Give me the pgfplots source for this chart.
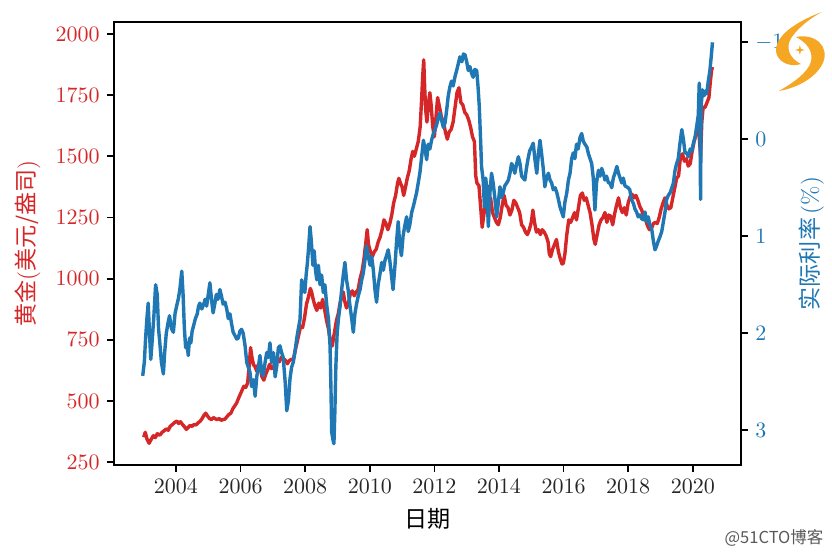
\documentclass[border=0pt]{standalone}
\usepackage{pgfplots}
\pgfplotsset{compat=1.18}
\usepackage{fontspec}
\newfontfamily\cjk{Noto Sans CJK SC}
\definecolor{tabred}{RGB}{214,39,40}
\definecolor{tabblue}{RGB}{31,119,180}
\definecolor{logoorange}{RGB}{245,166,35}
\pgfplotsset{
  twin/.style={
    at={(51.8pt,40pt)}, anchor=south west, scale only axis,
    width=285pt, height=201.4pt,
    xmin=2002.08, xmax=2021.49,
    axis line style={line width=0.8pt},
    tick style={black, line width=0.8pt},
    tick align=outside, major tick length=3pt,
    tick label style={font=\fontsize{10}{12}\selectfont},
    label style={font=\fontsize{10.5}{12}\selectfont},
  }
}
\begin{document}
\begin{tikzpicture}
\useasboundingbox (0,0) rectangle (378.2pt,251.4pt);

\begin{axis}[twin,
  ymin=238, ymax=2049,
  xtick={2004,2006,...,2020},
  xticklabel style={text=black!85,/pgf/number format/1000 sep=},
  ytick={250,500,...,2000},
  yticklabel style={text=tabred,/pgf/number format/1000 sep=},
  xtick pos=left, ytick pos=left,
  xlabel={{\cjk 日期}},
  ylabel={{\cjk 黄金}({\cjk 美元/盎司})},
  ylabel style={text=tabred},
]
\addplot[tabred, line width=1.55pt, line join=round] coordinates {
(2003.00,352) (2003.05,372) (2003.10,345) (2003.17,327) (2003.22,340) (2003.30,358)
(2003.36,350) (2003.42,366) (2003.50,360) (2003.57,372) (2003.63,378) (2003.70,386)
(2003.76,380) (2003.82,396) (2003.90,405) (2003.96,412) (2004.03,418) (2004.08,408)
(2004.14,415) (2004.20,404) (2004.26,395) (2004.32,384) (2004.38,392) (2004.44,400)
(2004.50,396) (2004.56,404) (2004.62,402) (2004.68,410) (2004.74,416) (2004.80,426)
(2004.86,440) (2004.92,450) (2004.98,438) (2005.04,428) (2005.10,424) (2005.16,432)
(2005.22,427) (2005.28,424) (2005.34,428) (2005.40,421) (2005.46,424) (2005.52,426)
(2005.58,436) (2005.64,445) (2005.70,450) (2005.76,468) (2005.82,480) (2005.88,492)
(2005.94,512) (2006.00,530) (2006.05,545) (2006.10,560) (2006.16,555) (2006.22,574)
(2006.27,650) (2006.31,718) (2006.35,680) (2006.40,648) (2006.45,640) (2006.50,622)
(2006.55,650) (2006.60,640) (2006.66,600) (2006.72,585) (2006.78,610) (2006.84,628)
(2006.90,650) (2006.96,632) (2007.02,638) (2007.08,665) (2007.14,670) (2007.20,660)
(2007.27,680) (2007.33,672) (2007.39,666) (2007.45,652) (2007.51,665) (2007.57,670)
(2007.63,668) (2007.69,705) (2007.75,740) (2007.80,770) (2007.86,805) (2007.92,800)
(2007.98,840) (2008.04,895) (2008.10,925) (2008.16,960) (2008.20,945) (2008.24,920)
(2008.30,890) (2008.36,870) (2008.42,900) (2008.48,880) (2008.54,915) (2008.60,875)
(2008.66,830) (2008.72,795) (2008.76,760) (2008.80,740) (2008.84,725) (2008.88,760)
(2008.92,790) (2008.97,830) (2009.03,860) (2009.08,900) (2009.13,930) (2009.18,945)
(2009.22,910) (2009.28,880) (2009.34,900) (2009.40,940) (2009.46,950) (2009.52,930)
(2009.58,945) (2009.64,955) (2009.70,1000) (2009.76,1030) (2009.82,1080) (2009.88,1150)
(2009.92,1200) (2009.96,1140) (2010.02,1110) (2010.08,1090) (2010.14,1110) (2010.20,1120)
(2010.26,1150) (2010.32,1170) (2010.38,1200) (2010.44,1240) (2010.50,1225) (2010.56,1200)
(2010.62,1225) (2010.68,1260) (2010.74,1310) (2010.80,1340) (2010.86,1390) (2010.90,1410)
(2010.95,1390) (2011.00,1375) (2011.05,1340) (2011.10,1370) (2011.16,1410) (2011.22,1440)
(2011.28,1490) (2011.33,1520) (2011.38,1500) (2011.44,1530) (2011.50,1560) (2011.56,1620)
(2011.60,1720) (2011.64,1830) (2011.67,1894) (2011.70,1780) (2011.73,1690) (2011.77,1640)
(2011.82,1720) (2011.86,1760) (2011.90,1710) (2011.95,1620) (2012.00,1580) (2012.05,1660)
(2012.10,1740) (2012.16,1700) (2012.22,1660) (2012.28,1640) (2012.34,1600) (2012.40,1570)
(2012.46,1600) (2012.52,1610) (2012.58,1640) (2012.64,1700) (2012.70,1760) (2012.76,1780)
(2012.82,1720) (2012.88,1710) (2012.94,1680) (2013.00,1670) (2013.06,1650) (2013.12,1620)
(2013.18,1580) (2013.24,1560) (2013.28,1420) (2013.32,1390) (2013.38,1380) (2013.44,1280)
(2013.48,1210) (2013.52,1250) (2013.58,1310) (2013.64,1380) (2013.68,1320) (2013.74,1330)
(2013.80,1270) (2013.86,1250) (2013.92,1230) (2013.98,1220) (2014.04,1250) (2014.10,1300)
(2014.16,1340) (2014.22,1300) (2014.28,1290) (2014.34,1260) (2014.40,1280) (2014.46,1320)
(2014.52,1310) (2014.58,1290) (2014.64,1270) (2014.70,1220) (2014.76,1210) (2014.82,1190)
(2014.88,1180) (2014.94,1200) (2015.00,1230) (2015.05,1280) (2015.10,1230) (2015.16,1190)
(2015.22,1200) (2015.28,1180) (2015.34,1200) (2015.40,1190) (2015.46,1175) (2015.52,1150)
(2015.56,1100) (2015.60,1090) (2015.66,1120) (2015.72,1140) (2015.78,1160) (2015.84,1110)
(2015.90,1080) (2015.95,1060) (2015.99,1062) (2016.04,1100) (2016.10,1180) (2016.16,1240)
(2016.22,1230) (2016.28,1250) (2016.34,1270) (2016.40,1240) (2016.46,1290) (2016.52,1340)
(2016.58,1350) (2016.64,1320) (2016.70,1330) (2016.76,1300) (2016.82,1270) (2016.88,1220)
(2016.94,1160) (2016.98,1140) (2017.04,1180) (2017.10,1220) (2017.16,1240) (2017.22,1250)
(2017.28,1270) (2017.34,1230) (2017.40,1260) (2017.46,1255) (2017.52,1220) (2017.58,1265)
(2017.64,1300) (2017.70,1330) (2017.76,1290) (2017.82,1270) (2017.88,1290) (2017.94,1260)
(2018.00,1310) (2018.06,1335) (2018.12,1345) (2018.18,1330) (2018.24,1340) (2018.30,1320)
(2018.36,1295) (2018.42,1280) (2018.48,1255) (2018.54,1240) (2018.60,1215) (2018.66,1200)
(2018.72,1205) (2018.78,1225) (2018.84,1230) (2018.90,1225) (2018.96,1250) (2019.02,1285)
(2019.08,1310) (2019.14,1330) (2019.20,1300) (2019.26,1285) (2019.32,1290) (2019.38,1330)
(2019.44,1370) (2019.50,1410) (2019.56,1420) (2019.62,1500) (2019.68,1510) (2019.74,1480)
(2019.80,1490) (2019.86,1460) (2019.92,1470) (2019.98,1520) (2020.04,1560) (2020.10,1590)
(2020.16,1640) (2020.20,1580) (2020.24,1500) (2020.28,1640) (2020.32,1700) (2020.38,1700)
(2020.44,1720) (2020.50,1740) (2020.54,1800) (2020.58,1850) (2020.61,1865)
};
\end{axis}

\begin{axis}[twin,
  ymin=-1.21, ymax=3.36, y dir=reverse,
  axis x line=none, axis y line*=right,
  ytick={-1,0,1,2,3},
  yticklabel style={text=tabblue},
  ylabel={{\cjk 实际利率}\,(\%)},
  ylabel style={text=tabblue},
]
\addplot[tabblue, line width=1.55pt, line join=round] coordinates {
(2002.97,2.44) (2003.02,2.30) (2003.06,2.05) (2003.10,1.85) (2003.14,1.69) (2003.18,2.00)
(2003.22,2.27) (2003.27,2.05) (2003.32,1.80) (2003.37,1.50) (2003.42,1.60) (2003.46,1.95)
(2003.50,2.10) (2003.55,2.30) (2003.61,2.42) (2003.65,2.20) (2003.70,2.00) (2003.75,1.90)
(2003.80,1.82) (2003.86,1.95) (2003.92,1.99) (2003.97,1.80) (2004.02,1.72) (2004.07,1.65)
(2004.12,1.55) (2004.18,1.36) (2004.22,1.60) (2004.26,1.95) (2004.30,2.15) (2004.34,2.10)
(2004.38,2.23) (2004.42,2.05) (2004.46,2.10) (2004.50,1.98) (2004.54,1.93) (2004.60,1.85)
(2004.66,1.80) (2004.70,1.72) (2004.74,1.69) (2004.80,1.75) (2004.86,1.70) (2004.90,1.65)
(2004.95,1.72) (2005.00,1.60) (2005.05,1.48) (2005.10,1.65) (2005.15,1.79) (2005.20,1.70)
(2005.25,1.60) (2005.30,1.65) (2005.36,1.55) (2005.41,1.62) (2005.46,1.70) (2005.52,1.68)
(2005.57,1.75) (2005.62,1.85) (2005.67,1.80) (2005.72,1.90) (2005.77,1.99) (2005.82,2.02)
(2005.88,2.06) (2005.93,2.05) (2005.98,1.98) (2006.03,1.96) (2006.08,2.00) (2006.14,2.13)
(2006.19,2.30) (2006.24,2.35) (2006.29,2.40) (2006.34,2.55) (2006.40,2.48) (2006.45,2.65)
(2006.50,2.45) (2006.55,2.35) (2006.60,2.23) (2006.65,2.40) (2006.70,2.44) (2006.76,2.30)
(2006.81,2.20) (2006.86,2.25) (2006.91,2.10) (2006.96,2.30) (2007.02,2.20) (2007.07,2.45)
(2007.12,2.34) (2007.17,2.15) (2007.22,2.13) (2007.27,2.20) (2007.32,2.25) (2007.38,2.50)
(2007.43,2.80) (2007.48,2.70) (2007.53,2.47) (2007.58,2.35) (2007.63,2.30) (2007.68,2.20)
(2007.74,2.05) (2007.79,1.95) (2007.84,1.86) (2007.89,1.45) (2007.94,1.50) (2007.99,1.58)
(2008.03,1.40) (2008.07,1.27) (2008.11,1.10) (2008.15,0.90) (2008.19,1.05) (2008.24,1.30)
(2008.28,1.15) (2008.32,1.35) (2008.36,1.45) (2008.41,1.30) (2008.46,1.50) (2008.51,1.40)
(2008.56,1.58) (2008.61,1.50) (2008.67,1.72) (2008.72,1.85) (2008.77,2.13) (2008.80,2.60)
(2008.82,3.02) (2008.86,3.10) (2008.89,3.14) (2008.92,2.80) (2008.95,2.34) (2008.99,2.00)
(2009.03,1.85) (2009.08,1.72) (2009.13,1.55) (2009.18,1.40) (2009.23,1.27) (2009.28,1.45)
(2009.33,1.55) (2009.38,1.70) (2009.44,1.85) (2009.49,1.99) (2009.54,1.80) (2009.59,1.70)
(2009.64,1.62) (2009.70,1.55) (2009.75,1.45) (2009.80,1.38) (2009.85,1.25) (2009.90,1.10)
(2009.95,1.20) (2010.01,1.30) (2010.06,1.21) (2010.11,1.35) (2010.16,1.55) (2010.21,1.68)
(2010.26,1.50) (2010.31,1.40) (2010.37,1.27) (2010.42,1.35) (2010.47,1.25) (2010.52,1.20)
(2010.57,1.14) (2010.62,1.25) (2010.67,1.40) (2010.72,1.55) (2010.78,1.30) (2010.83,1.05)
(2010.88,0.85) (2010.93,1.10) (2010.98,1.20) (2011.03,1.00) (2011.08,0.90) (2011.14,0.80)
(2011.19,0.95) (2011.24,0.88) (2011.30,0.75) (2011.35,0.69) (2011.40,0.62) (2011.45,0.55)
(2011.50,0.45) (2011.55,0.35) (2011.60,0.20) (2011.66,0.01) (2011.71,0.10) (2011.76,0.21)
(2011.81,0.05) (2011.86,0.10) (2011.92,0.00) (2011.97,-0.06) (2012.02,-0.10) (2012.07,-0.15)
(2012.12,-0.22) (2012.17,-0.27) (2012.22,-0.20) (2012.28,-0.12) (2012.33,-0.17) (2012.38,-0.30)
(2012.43,-0.45) (2012.48,-0.54) (2012.53,-0.60) (2012.58,-0.55) (2012.64,-0.65) (2012.69,-0.71)
(2012.74,-0.78) (2012.79,-0.85) (2012.85,-0.80) (2012.90,-0.88) (2012.95,-0.87) (2013.00,-0.80)
(2013.05,-0.71) (2013.10,-0.75) (2013.15,-0.68) (2013.20,-0.64) (2013.25,-0.72) (2013.31,-0.71)
(2013.35,-0.55) (2013.39,-0.34) (2013.43,0.00) (2013.46,0.28) (2013.51,0.42) (2013.55,0.70)
(2013.59,0.40) (2013.63,0.55) (2013.67,0.90) (2013.72,0.55) (2013.77,0.35) (2013.82,0.45)
(2013.87,0.60) (2013.93,0.80) (2013.98,0.65) (2014.03,0.49) (2014.08,0.60) (2014.13,0.55)
(2014.18,0.48) (2014.24,0.45) (2014.29,0.42) (2014.34,0.35) (2014.39,0.25) (2014.44,0.28)
(2014.49,0.35) (2014.55,0.25) (2014.60,0.18) (2014.65,0.25) (2014.70,0.38) (2014.75,0.40)
(2014.80,0.42) (2014.85,0.30) (2014.90,0.20) (2014.95,0.12) (2015.01,0.08) (2015.06,0.04)
(2015.11,0.20) (2015.17,0.35) (2015.22,0.15) (2015.27,0.01) (2015.32,0.15) (2015.37,0.30)
(2015.42,0.49) (2015.47,0.40) (2015.53,0.35) (2015.58,0.42) (2015.63,0.45) (2015.68,0.52)
(2015.74,0.50) (2015.79,0.55) (2015.84,0.62) (2015.89,0.70) (2015.94,0.75) (2015.99,0.80)
(2016.04,0.65) (2016.10,0.55) (2016.15,0.42) (2016.20,0.35) (2016.25,0.20) (2016.30,0.14)
(2016.35,0.20) (2016.40,0.05) (2016.45,0.10) (2016.51,-0.02) (2016.56,-0.06) (2016.61,0.02)
(2016.66,0.05) (2016.72,0.08) (2016.77,0.15) (2016.82,0.20) (2016.87,0.25) (2016.92,0.40)
(2016.97,0.73) (2017.02,0.45) (2017.08,0.32) (2017.13,0.38) (2017.18,0.30) (2017.23,0.35)
(2017.28,0.42) (2017.33,0.38) (2017.39,0.45) (2017.44,0.45) (2017.49,0.50) (2017.54,0.40)
(2017.59,0.35) (2017.65,0.28) (2017.70,0.35) (2017.75,0.40) (2017.80,0.45) (2017.85,0.40)
(2017.90,0.48) (2017.95,0.49) (2018.00,0.50) (2018.05,0.52) (2018.10,0.62) (2018.16,0.66)
(2018.21,0.72) (2018.26,0.75) (2018.31,0.80) (2018.36,0.78) (2018.42,0.82) (2018.47,0.83)
(2018.52,0.75) (2018.57,0.85) (2018.62,0.80) (2018.67,0.88) (2018.73,0.93) (2018.78,1.05)
(2018.83,1.14) (2018.88,1.10) (2018.93,1.05) (2018.99,1.00) (2019.04,0.95) (2019.09,0.85)
(2019.14,0.75) (2019.19,0.62) (2019.24,0.58) (2019.30,0.55) (2019.35,0.50) (2019.40,0.45)
(2019.45,0.32) (2019.50,0.25) (2019.55,0.20) (2019.60,0.05) (2019.66,-0.10) (2019.71,0.00)
(2019.76,0.14) (2019.81,0.14) (2019.86,0.18) (2019.92,0.10) (2019.97,0.12) (2020.02,0.04)
(2020.07,-0.02) (2020.12,-0.13) (2020.17,-0.25) (2020.20,-0.58) (2020.22,-0.40) (2020.24,0.62)
(2020.26,-0.35) (2020.30,-0.51) (2020.35,-0.45) (2020.40,-0.50) (2020.43,-0.47) (2020.48,-0.60)
(2020.53,-0.71) (2020.57,-0.85) (2020.61,-1.00)
};
\end{axis}

% logo and watermark, placed in pixel units of the reference
\begin{scope}[x=0.4545pt, y=-0.4545pt, shift={(0pt,251.4pt)}]
  \fill[logoorange] (822,12) .. controls (790,24) and (772,40) .. (777,55)
    .. controls (781,64) and (792,67) .. (801,64)
    .. controls (789,58) and (785,47) .. (792,37)
    .. controls (800,26) and (811,18) .. (822,12) -- cycle;
  \fill[logoorange] (796,37) .. controls (816,33) and (830,47) .. (823,63)
    .. controls (816,78) and (797,88) .. (779,91)
    .. controls (795,82) and (808,72) .. (811,62)
    .. controls (814,51) and (806,42) .. (796,37) -- cycle;
  \fill[logoorange] (800,45) -- (801,49) -- (805,50) -- (801,51) -- (800,55)
    -- (799,51) -- (795,50) -- (799,49) -- cycle;
  \node[font=\cjk\fontsize{7.5}{9}\selectfont, text=black!65, anchor=east, inner sep=0pt]
    at (824,538) {@51CTO博客};
\end{scope}
\end{tikzpicture}
\end{document}
